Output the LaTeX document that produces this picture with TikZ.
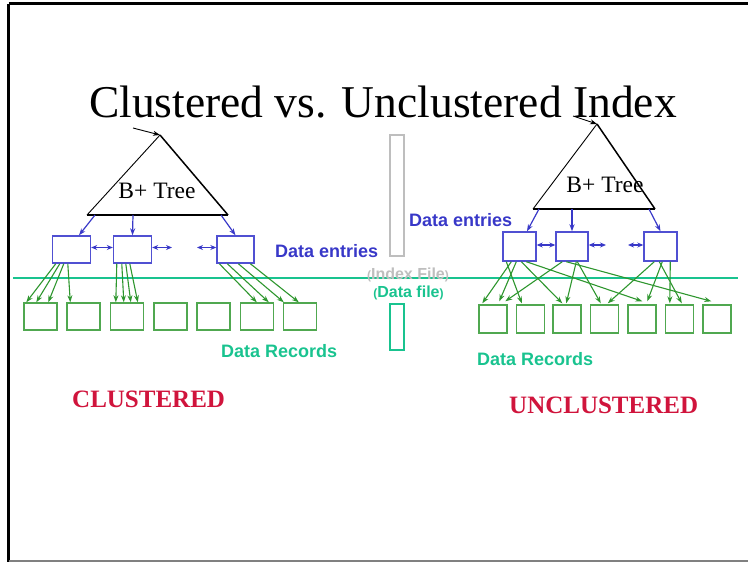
\documentclass[tikz,border=0pt]{standalone}
\usepackage{fontspec}
\setmainfont{Liberation Serif}
\setsansfont{Liberation Sans}
\usetikzlibrary{calc,arrows.meta}
\definecolor{idxblue}{RGB}{56,56,200}
\definecolor{boxblue}{RGB}{80,80,210}
\definecolor{recgreen}{RGB}{46,150,46}
\definecolor{boxgreen}{RGB}{80,168,80}
\definecolor{splitteal}{RGB}{25,195,143}
\definecolor{idxgray}{RGB}{190,190,190}
\definecolor{crimson}{RGB}{208,20,60}
\tikzset{
  entrybox/.style={draw=boxblue,line width=1.4pt,minimum width=38pt,minimum height=27pt,inner sep=0pt},
  recbox/.style={draw=boxgreen,line width=1.4pt,minimum width=33pt,minimum height=27pt,inner sep=0pt},
  rrecbox/.style={draw=boxgreen,line width=1.4pt,minimum width=28pt,minimum height=28pt,inner sep=0pt},
  ptr/.style={draw=recgreen,line width=1.1pt,-{Stealth[length=7pt,width=5pt]}},
  bptr/.style={draw=idxblue,line width=1.2pt,-{Stealth[length=7pt,width=5pt]}},
  sib/.style={draw=idxblue,line width=1.3pt,{Stealth[length=6pt,width=5pt]}-{Stealth[length=6pt,width=5pt]}},
  lbl/.style={font=\sffamily\bfseries\fontsize{18}{20}\selectfont,inner sep=0pt,anchor=base west},
  bigred/.style={font=\bfseries\fontsize{25}{28}\selectfont,text=crimson,inner sep=0pt,anchor=base west},
  treelbl/.style={font=\fontsize{23.5}{26}\selectfont,inner sep=0pt,anchor=base},
  rootptr/.style={draw=black,line width=0.9pt,-{Stealth[length=7pt,width=5pt,open]}}
}
\begin{document}
\begin{tikzpicture}[x=1pt,y=-1pt]
\useasboundingbox (0,0) rectangle (748,562);

% page frame
\draw[line width=2.8pt] (8.5,3.5) -- (748,3.5);
\draw[line width=2.8pt] (8.5,3.5) -- (8.5,562);
\draw[line width=1.4pt,gray] (8.5,560.8) -- (748,560.8);

% title
\node[font=\fontsize{45.5}{50}\selectfont,inner sep=0pt,anchor=base] (title) at (383,117) {Clustered vs. Unclustered Index};

% index / data separation line
\coordinate (sepL) at (13,278);
\coordinate (sepR) at (738,278);
\draw[splitteal,line width=1.2pt] (sepL) -- (sepR);

% ---------- clustered side ----------
\coordinate (LA) at (160,135);
\coordinate (LBL) at (87,215);
\coordinate (LBR) at (228,215);
\coordinate (Lroot) at (133,128);
\draw[line width=0.9pt] (LBL) -- (LA);
\draw[line width=1.5pt] (LA) -- (LBR);
\draw[line width=2.2pt] (LBL) -- (LBR);
\draw[rootptr] (Lroot) -- (LA);
\node[treelbl] (Ltree) at (157,198) {B+ Tree};

\node[entrybox] (L1) at (71.5,249.5) {};
\node[entrybox] (L2) at (132.5,249.5) {};
\node[entrybox,minimum width=37pt] (L3) at (235.5,249.5) {};

\coordinate (Lb1) at (95,215);
\coordinate (Lb2) at (133,215);
\coordinate (Lb3) at (221,215);
\draw[bptr] (Lb1) -- ($(L1.north)+(7.5,0)$);
\draw[bptr] (Lb2) -- (L2.north);
\draw[bptr] (Lb3) -- (L3.north);

\coordinate (Ls1) at (172,247.5);
\coordinate (Ls2) at (197,247.5);
\draw[sib] ($(L1.east)+(0,-2)$) -- ($(L2.west)+(0,-2)$);
\draw[sib] ($(L2.east)+(0,-2)$) -- (Ls1);
\draw[sib] (Ls2) -- ($(L3.west)+(0,-2)$);

\foreach \i/\x in {1/40.5,2/83.5,3/127,4/170.5,5/213.5,6/257,7/300}
  \node[recbox] (D\i) at (\x,316.5) {};

\draw[ptr] ($(L1.south west)+(4,0)$) -- ($(D1.north west)+(3,0)$);
\draw[ptr] ($(L1.south west)+(8,0)$) -- ($(D1.north west)+(13,0)$);
\draw[ptr] ($(L1.south west)+(12,0)$) -- ($(D1.north west)+(25,0)$);
\draw[ptr] ($(L1.south west)+(16,0)$) -- ($(D2.north west)+(4,0)$);

\draw[ptr] ($(L2.south west)+(4,0)$) -- ($(D3.north west)+(6,0)$);
\draw[ptr] ($(L2.south west)+(9,0)$) -- ($(D3.north west)+(14,0)$);
\draw[ptr] ($(L2.south west)+(13,0)$) -- ($(D3.north west)+(21,0)$);
\draw[ptr] ($(L2.south west)+(17,0)$) -- ($(D3.north west)+(28,0)$);

\draw[ptr] ($(L3.south west)+(3,0)$) -- ($(D6.north west)+(17,0)$);
\draw[ptr] ($(L3.south west)+(11,0)$) -- ($(D6.north west)+(29,0)$);
\draw[ptr] ($(L3.south west)+(22,0)$) -- ($(D7.north west)+(1,0)$);
\draw[ptr] ($(L3.south west)+(34,0)$) -- ($(D7.north west)+(16,0)$);

\node[lbl,text=idxblue] (Lent) at (275,257) {Data entries};
\node[lbl,text=splitteal] (Lrec) at (221,357) {Data Records};
\node[bigred] (Lcl) at (72,407) {CLUSTERED};

% ---------- file boxes in the middle ----------
\node[draw=idxgray,line width=1.3pt,minimum width=14pt,minimum height=121pt,inner sep=0pt] (ifile) at (397,195.5) {};
\node[draw=splitteal,line width=1.3pt,minimum width=14pt,minimum height=46pt,inner sep=0pt] (dfile) at (397,327) {};
\node[font=\sffamily\bfseries\fontsize{16}{18}\selectfont,text=idxgray,inner sep=0pt,anchor=base] (ilbl) at (408,279)
  {{\fontsize{12}{13}\selectfont(}Index File{\fontsize{12}{13}\selectfont)}};
\node[font=\sffamily\bfseries\fontsize{16}{18}\selectfont,text=splitteal,inner sep=0pt,anchor=base] (dlbl) at (408.5,297.5)
  {{\fontsize{12}{13}\selectfont(}Data file{\fontsize{12}{13}\selectfont)}};

% ---------- unclustered side ----------
\coordinate (RA) at (597,124);
\coordinate (RBL) at (533,209);
\coordinate (RBR) at (655,209);
\coordinate (Rroot) at (573,116);
\draw[line width=0.9pt] (RBL) -- (RA);
\draw[line width=1.5pt] (RA) -- (RBR);
\draw[line width=1.7pt] (RBL) -- (RBR);
\draw[rootptr] (Rroot) -- (RA);
\node[treelbl] (Rtree) at (605,192) {B+ Tree};

\node[entrybox,minimum width=33pt,minimum height=29pt] (R1) at (519.5,246.5) {};
\node[entrybox,minimum width=32pt,minimum height=29pt] (R2) at (572,246.5) {};
\node[entrybox,minimum width=33pt,minimum height=29pt] (R3) at (660.5,246.5) {};

\coordinate (Rb1) at (539,209);
\coordinate (Rb2) at (572,209);
\coordinate (Rb3) at (649,209);
\draw[bptr] (Rb1) -- ($(R1.north)+(7.5,0)$);
\draw[bptr] (Rb2) -- (R2.north);
\draw[bptr] (Rb3) -- (R3.north);

\coordinate (Rs1) at (606,245);
\coordinate (Rs2) at (628,245);
\draw[sib] ($(R1.east)+(0,-1.5)$) -- ($(R2.west)+(0,-1.5)$);
\draw[sib] ($(R2.east)+(0,-1.5)$) -- (Rs1);
\draw[sib] (Rs2) -- ($(R3.west)+(0,-1.5)$);

\foreach \i/\x in {1/493,2/530.5,3/567,4/604.5,5/642,6/679.5,7/717}
  \node[rrecbox] (E\i) at (\x,319) {};

\draw[ptr] ($(R1.south west)+(9,0)$) -- ($(E1.north west)+(4,-1)$);
\draw[ptr] ($(R1.south west)+(14,0)$) -- ($(E1.north west)+(21,-3)$);
\draw[ptr] ($(R1.south west)+(4,0)$) -- ($(E2.north west)+(6,-1)$);
\draw[ptr] ($(R1.south west)+(19,0)$) -- ($(E3.north west)+(10,-1)$);
\draw[ptr] ($(R1.south west)+(24,0)$) -- ($(E5.north west)+(15,-3)$);

\draw[ptr] ($(R2.south west)+(7,0)$) -- ($(E1.north west)+(27,-3)$);
\draw[ptr] ($(R2.south west)+(21,0)$) -- ($(E3.north west)+(14,-1)$);
\draw[ptr] ($(R2.south west)+(22,0)$) -- ($(E4.north west)+(11,-1)$);
\draw[ptr] ($(R2.south west)+(11,0)$) -- ($(E7.north west)+(9,-3)$);

\draw[ptr] ($(R3.south west)+(11,0)$) -- ($(E4.north west)+(18,-1)$);
\draw[ptr] ($(R3.south west)+(19,0)$) -- ($(E5.north west)+(20,-3)$);
\draw[ptr] ($(R3.south west)+(27,0)$) -- ($(E6.north west)+(5,-1)$);
\draw[ptr] ($(R3.south west)+(16,0)$) -- ($(E6.north west)+(17,-1)$);

\node[lbl,text=idxblue] (Rent) at (409,226) {Data entries};
\node[lbl,text=splitteal] (Rrec) at (477,365) {Data Records};
\node[bigred] (Rcl) at (509,413) {UNCLUSTERED};
\end{tikzpicture}
\end{document}
